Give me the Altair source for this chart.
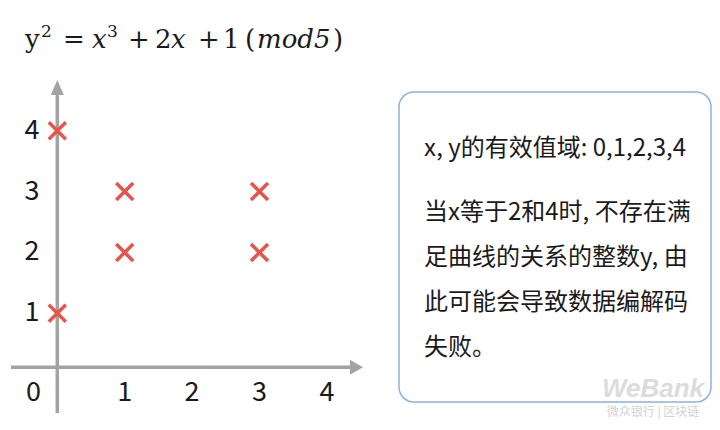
import altair as alt
import pandas as pd

# ---------------- data ----------------
point_x = [0, 0, 1, 1, 3, 3]
point_y = [1, 4, 2, 3, 2, 3]
x_ticks = [1, 2, 3, 4]
y_ticks = [1, 2, 3, 4]
origin_label = "0"
title_parts = ["y", "2", "=", "x", "3", "+", "2", "x", "+", "1", "(", "mod5", ")"]
title_style = ["n", "s", "n", "i", "s", "n", "n", "i", "n", "n", "n", "i", "n"]
box_lines = [
    "x, y的有效值域: 0,1,2,3,4",
    "当x等于2和4时, 不存在满",
    "足曲线的关系的整数y, 由",
    "此可能会导致数据编解码",
    "失败。",
]
brand = "WeBank"
brand_sub = "微众银行 | 区块链"

# ---------------- layout ----------------
W, H = 704, 412
X0, XU = 49.3, 67.4     # pixel of x=0 and pixels per unit
Y0, YU = 366.2, 60.87   # pixel of y=0 and pixels per unit
x_scale = alt.Scale(domain=[-X0 / XU, (W - X0) / XU], nice=False, zero=False)
y_scale = alt.Scale(domain=[-(H - Y0) / YU, Y0 / YU], nice=False, zero=False)

AX = "#a3a3a3"
RED = "#e3564b"
INK = "#1a1a1a"
SANS = "Noto Sans CJK SC"
one = pd.DataFrame({"k": [0]})

layers = []

# rounded info box
layers.append(
    alt.Chart(one).mark_rect(cornerRadius=15, fill="white", stroke="#8fb0df", strokeWidth=1.5)
    .encode(x=alt.value(391), x2=alt.value(703), y=alt.value(84), y2=alt.value(394))
)

# axes lines
layers.append(
    alt.Chart(one).mark_rule(color=AX, strokeWidth=3.5)
    .encode(x=alt.value(X0), y=alt.value(86), y2=alt.value(405))
)
layers.append(
    alt.Chart(one).mark_rule(color=AX, strokeWidth=3.5)
    .encode(y=alt.value(359.3), x=alt.value(3), x2=alt.value(344))
)
# arrow heads
layers.append(
    alt.Chart(one).mark_point(shape="M-0.87,1L0,-1L0.87,1Z", filled=True, size=225, color=AX, opacity=1)
    .encode(x=alt.value(X0), y=alt.value(79.5))
)
layers.append(
    alt.Chart(one).mark_point(shape="M-0.87,-1L0.87,0L-0.87,1Z", filled=True, size=225, color=AX, opacity=1)
    .encode(x=alt.value(348.5), y=alt.value(359.3))
)

# crosses
pts = pd.DataFrame({"x": point_x, "y": point_y})
layers.append(
    alt.Chart(pts).mark_point(shape="M-1,-1L1,1M-1,1L1,-1", filled=False, strokeWidth=3.5,
                              size=289, color=RED, opacity=1)
    .encode(x=alt.X("x:Q", scale=x_scale, axis=None), y=alt.Y("y:Q", scale=y_scale, axis=None))
)

# tick labels
layers.append(
    alt.Chart(pd.DataFrame({"v": y_ticks})).mark_text(font=SANS, fontSize=27, align="center",
                                                      baseline="middle", color=INK)
    .encode(x=alt.value(24), y=alt.Y("v:Q", scale=y_scale, axis=None), text=alt.Text("v:Q", format="d"))
)
layers.append(
    alt.Chart(pd.DataFrame({"v": x_ticks})).mark_text(font=SANS, fontSize=27, align="center",
                                                      baseline="middle", color=INK)
    .encode(x=alt.X("v:Q", scale=x_scale, axis=None), y=alt.value(385), text=alt.Text("v:Q", format="d"))
)
layers.append(
    alt.Chart(one).mark_text(text=origin_label, font=SANS, fontSize=27, align="center",
                             baseline="middle", color=INK)
    .encode(x=alt.value(25.5), y=alt.value(385))
)

# title formula segments
title_x = [17, 33, 55, 84, 99, 120, 147, 163, 190, 215, 237, 249, 325]
for part, st, px in zip(title_parts, title_style, title_x):
    kw = dict(text=part, font="DejaVu Serif", fontSize=26, align="left",
              baseline="alphabetic", color=INK)
    py = 40
    if st == "i":
        kw["fontStyle"] = "italic"
    elif st == "s":
        kw["fontSize"] = 17
        py = 29
    layers.append(alt.Chart(one).mark_text(**kw).encode(x=alt.value(px), y=alt.value(py)))

# box text
line_y = [141, 205, 250, 295, 340]
for txt, py in zip(box_lines, line_y):
    layers.append(
        alt.Chart(one).mark_text(text=txt, font=SANS, fontSize=24, align="left",
                                 baseline="middle", color=INK)
        .encode(x=alt.value(416), y=alt.value(py))
    )

# watermark
layers.append(
    alt.Chart(one).mark_text(text=brand, font="Liberation Sans", fontSize=26, fontWeight="bold",
                             fontStyle="italic", align="center", baseline="alphabetic", color="#dcdcdc")
    .encode(x=alt.value(645), y=alt.value(389))
)
layers.append(
    alt.Chart(one).mark_text(text=brand_sub, font=SANS, fontSize=12, align="center",
                             baseline="middle", color="#d2d2d2")
    .encode(x=alt.value(645), y=alt.value(404))
)

chart = (
    alt.layer(*layers)
    .properties(width=W, height=H, padding=0, autosize="none", background="white")
    .configure_view(stroke=None)
)

chart.save("out.html", embed_options={"renderer": "svg", "actions": False})
